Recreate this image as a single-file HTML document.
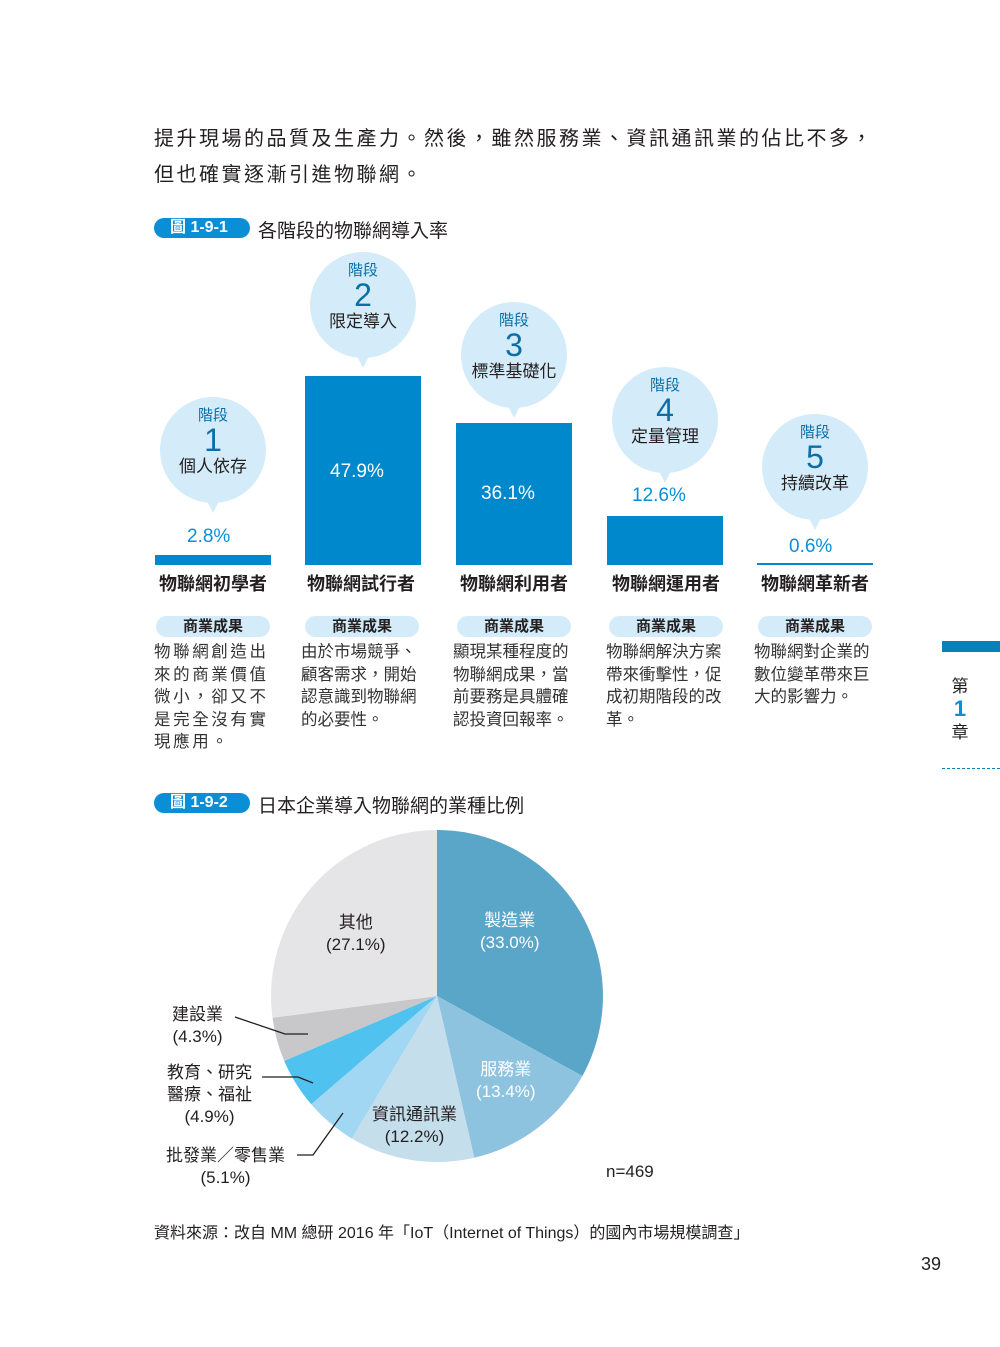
<!DOCTYPE html>
<html><head><meta charset="utf-8"><style>
body{margin:0;background:#fff;}
#p{position:relative;width:1000px;height:1347px;overflow:hidden;font-family:"Liberation Sans","Noto Sans CJK TC",sans-serif;color:#231f20;}
.a{position:absolute;white-space:nowrap;}
.body{font-size:20px;letter-spacing:2.5px;}
.tag{position:absolute;background:#0a8fd6;color:#fff;border-radius:12px;font-weight:bold;font-size:16px;line-height:20px;height:20px;padding-left:16px;width:80px;}
.ttl{font-size:19px;}
.bub{position:absolute;width:106px;height:106px;border-radius:50%;background:#d4ecf9;text-align:center;}
.bub:after{content:"";position:absolute;left:45px;top:100px;border-left:8px solid transparent;border-right:8px solid transparent;border-top:16px solid #d4ecf9;}
.bub .s{color:#0a6fa8;font-size:15px;margin-top:11px;line-height:16px;}
.bub .n{color:#0a6fa8;font-size:32px;line-height:32px;}
.bub .t{font-size:17px;line-height:22px;}
.bar{position:absolute;background:#0088cc;}
.pct{position:absolute;font-size:19px;}
.nm{position:absolute;font-size:18px;font-weight:bold;width:116px;text-align:center;}
.pill{position:absolute;width:114px;height:21px;border-radius:11px;background:#d4ecf9;font-size:15px;font-weight:bold;text-align:center;line-height:21px;}
.desc{position:absolute;font-size:16.5px;line-height:22.5px;width:124px;white-space:normal;color:#333;}
.pl{position:absolute;font-size:17px;text-align:center;line-height:22px;}
</style></head><body><div id="p">
<div class="a body" style="left:154px;top:122px;">提升現場的品質及生產力。然後，雖然服務業、資訊通訊業的佔比不多，</div>
<div class="a body" style="left:154px;top:158px;">但也確實逐漸引進物聯網。</div>

<div class="tag" style="left:154px;top:218px;">圖 1-9-1</div>
<div class="a ttl" style="left:258px;top:216px;">各階段的物聯網導入率</div>

<div class="bub" style="left:160px;top:397px;"><div class="s">階段</div><div class="n">1</div><div class="t">個人依存</div></div>
<div class="bub" style="left:310px;top:252px;"><div class="s">階段</div><div class="n">2</div><div class="t">限定導入</div></div>
<div class="bub" style="left:461px;top:302px;"><div class="s">階段</div><div class="n">3</div><div class="t">標準基礎化</div></div>
<div class="bub" style="left:612px;top:367px;"><div class="s">階段</div><div class="n">4</div><div class="t">定量管理</div></div>
<div class="bub" style="left:762px;top:414px;"><div class="s">階段</div><div class="n">5</div><div class="t">持續改革</div></div>

<div class="bar" style="left:155px;top:555px;width:116px;height:10px;"></div>
<div class="bar" style="left:305px;top:376px;width:116px;height:189px;"></div>
<div class="bar" style="left:456px;top:423px;width:116px;height:142px;"></div>
<div class="bar" style="left:607px;top:516px;width:116px;height:49px;"></div>
<div class="bar" style="left:757px;top:563px;width:116px;height:2px;"></div>
<div class="pct" style="left:187px;top:526px;color:#0a8fd6;">2.8%</div>
<div class="pct" style="left:330px;top:461px;color:#fff;">47.9%</div>
<div class="pct" style="left:481px;top:483px;color:#fff;">36.1%</div>
<div class="pct" style="left:632px;top:485px;color:#0a8fd6;">12.6%</div>
<div class="pct" style="left:789px;top:536px;color:#0a8fd6;">0.6%</div>

<div class="nm" style="left:153px;top:570px;width:120px;">物聯網初學者</div>
<div class="nm" style="left:301px;top:570px;width:120px;">物聯網試行者</div>
<div class="nm" style="left:454px;top:570px;width:120px;">物聯網利用者</div>
<div class="nm" style="left:606px;top:570px;width:120px;">物聯網運用者</div>
<div class="nm" style="left:755px;top:570px;width:120px;">物聯網革新者</div>

<div class="pill" style="left:156px;top:616px;">商業成果</div>
<div class="pill" style="left:305px;top:616px;">商業成果</div>
<div class="pill" style="left:457px;top:616px;">商業成果</div>
<div class="pill" style="left:609px;top:616px;">商業成果</div>
<div class="pill" style="left:758px;top:616px;">商業成果</div>

<div class="desc" style="left:154px;top:641px;width:124px;letter-spacing:2.6px;">物聯網創造出來的商業價值微小，卻又不是完全沒有實現應用。</div>
<div class="desc" style="left:301px;top:641px;">由於市場競爭、顧客需求，開始認意識到物聯網的必要性。</div>
<div class="desc" style="left:453px;top:641px;">顯現某種程度的物聯網成果，當前要務是具體確認投資回報率。</div>
<div class="desc" style="left:606px;top:641px;">物聯網解決方案帶來衝擊性，促成初期階段的改革。</div>
<div class="desc" style="left:754px;top:641px;">物聯網對企業的數位變革帶來巨大的影響力。</div>

<div class="a" style="left:942px;top:641px;width:58px;height:11px;background:#0a7fb8;"></div>
<div class="a" style="left:951px;top:676px;font-size:17px;line-height:22px;text-align:center;width:18px;white-space:normal;">第<br><span style="color:#0a8fd6;font-weight:bold;font-size:22px;">1</span><br>章</div>
<div class="a" style="left:942px;top:768px;width:58px;border-top:1px dashed #0a7fb8;"></div>

<div class="tag" style="left:154px;top:793px;">圖 1-9-2</div>
<div class="a ttl" style="left:258px;top:791px;">日本企業導入物聯網的業種比例</div>

<svg class="a" style="left:0;top:0;" width="1000" height="1347">
<path d="M437 996 L437 830 A166 166 0 0 1 582.4 1076 Z" fill="#5aa6c9"/>
<path d="M437 996 L582.4 1076 A166 166 0 0 1 474.3 1157.7 Z" fill="#8ec3df"/>
<path d="M437 996 L474.3 1157.7 A166 166 0 0 1 351.8 1138.5 Z" fill="#c4deec"/>
<path d="M437 996 L351.8 1138.5 A166 166 0 0 1 311.2 1104.3 Z" fill="#a1d7f3"/>
<path d="M437 996 L311.2 1104.3 A166 166 0 0 1 284.2 1060.9 Z" fill="#4fc2ef"/>
<path d="M437 996 L284.2 1060.9 A166 166 0 0 1 272.5 1017.8 Z" fill="#c8c8ca"/>
<path d="M437 996 L272.5 1017.8 A166 166 0 0 1 437 830 Z" fill="#e5e5e7"/>
<g stroke="#231f20" stroke-width="1.3" fill="none">
<polyline points="235,1017 285,1034 308,1034"/>
<polyline points="262,1077 298,1077 313,1083"/>
<polyline points="297,1155 313,1155 343,1113"/>
</g>
</svg>
<div class="pl" style="left:326px;top:912px;">其他<br>(27.1%)</div>
<div class="pl" style="left:480px;top:910px;color:#fff;">製造業<br>(33.0%)</div>
<div class="pl" style="left:476px;top:1059px;color:#fff;">服務業<br>(13.4%)</div>
<div class="pl" style="left:372px;top:1104px;">資訊通訊業<br>(12.2%)</div>
<div class="pl" style="left:172px;top:1004px;">建設業<br>(4.3%)</div>
<div class="pl" style="left:167px;top:1062px;">教育、研究<br>醫療、福祉<br>(4.9%)</div>
<div class="pl" style="left:166px;top:1145px;">批發業／零售業<br>(5.1%)</div>
<div class="a" style="left:606px;top:1162px;font-size:17px;">n=469</div>

<div class="a" style="left:154px;top:1219px;font-size:16px;">資料來源：改自 MM 總研 2016 年「IoT（Internet of Things）的國內市場規模調查」</div>
<div class="a" style="left:921px;top:1254px;font-size:18px;">39</div>
</div></body></html>
